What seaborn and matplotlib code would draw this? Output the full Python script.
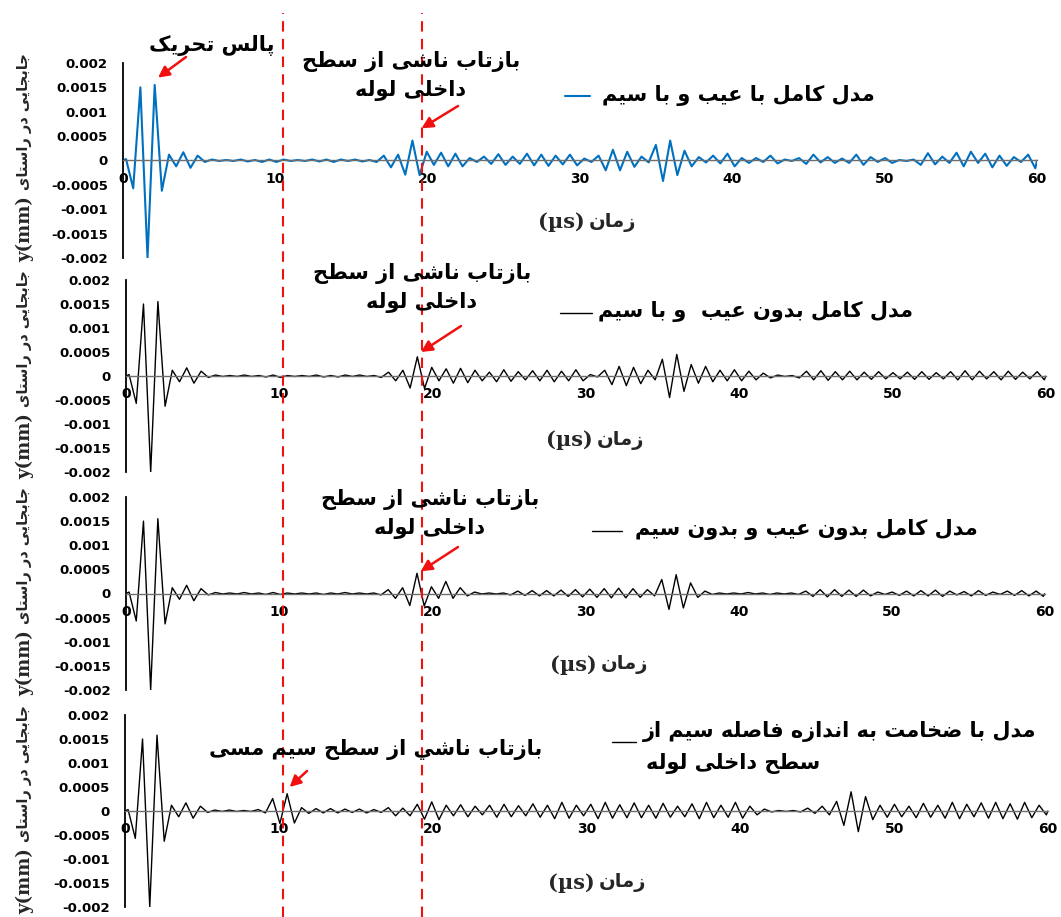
import numpy as np
import matplotlib
matplotlib.use('Agg')
import matplotlib.pyplot as plt
from matplotlib.lines import Line2D
from matplotlib.font_manager import FontProperties, findfont
from matplotlib.ft2font import FT2Font
import seaborn as sns

# ---- data ----
# extrema of the waves sit about half a period (0.47 us) apart
half_period = 0.47
t_peaks = 0.2 + half_period * np.arange(128)

# displacement at each extremum, in units of 1e-4 mm
with_defect_with_wire = [
    0.3, -5.7, 15.0, -20.0, 15.5, -6.2, 1.2, -1.2, 1.7, -1.5,
    1.0, -0.3, 0.2, -0.1, 0.1, -0.1, 0.2, -0.2, 0.1, -0.3,
    0.2, -0.3, 0.2, -0.1, 0.1, -0.1, 0.2, -0.2, 0.2, -0.3,
    0.2, -0.1, 0.2, -0.2, 0.1, -0.3, 1.0, -1.4, 1.2, -2.9,
    4.1, -3.0, 1.8, -0.9, 1.6, -1.2, 1.4, -1.2, 0.5, -0.3,
    0.8, -0.7, 1.3, -0.9, 0.8, -0.7, 1.4, -1.0, 1.2, -1.1,
    1.0, -0.8, 1.2, -1.0, 0.4, -0.3, 1.0, -2.0, 2.2, -2.0,
    1.8, -1.3, 0.8, -0.4, 3.2, -4.2, 4.1, -3.0, 2.0, -1.2,
    0.7, -0.4, 1.0, -0.6, 1.4, -1.2, 0.5, -0.5, 0.5, -0.3,
    1.0, -0.6, 0.2, -0.1, 0.5, -0.7, 1.2, -0.4, 0.7, -0.5,
    0.4, -0.5, 1.2, -0.9, 0.7, -0.3, 0.5, -0.5, 0.1, -0.1,
    0.2, -0.9, 1.5, -0.8, 0.8, -0.5, 1.6, -1.2, 1.8, -0.5,
    1.4, -1.4, 1.0, -1.1, 0.7, -0.3, 1.2, -1.6,
]
no_defect_with_wire = [
    0.3, -5.7, 15.0, -20.0, 15.5, -6.3, 1.2, -1.2, 1.7, -1.5,
    1.0, -0.3, 0.2, -0.1, 0.1, -0.1, 0.2, -0.1, 0.1, -0.2,
    0.2, -0.3, 0.1, -0.1, 0.1, -0.1, 0.2, -0.2, 0.1, -0.2,
    0.2, -0.1, 0.2, -0.1, 0.1, -0.3, 0.8, -1.0, 1.2, -2.5,
    4.0, -2.6, 1.8, -1.0, 1.5, -1.5, 1.6, -1.4, 1.2, -1.0,
    0.8, -1.2, 1.3, -1.1, 0.9, -0.8, 1.1, -1.0, 1.2, -1.2,
    1.0, -1.0, 1.3, -1.0, 0.3, -0.2, 1.2, -1.8, 2.0, -2.0,
    1.8, -1.6, 1.2, -0.8, 3.5, -4.5, 4.5, -3.2, 2.4, -1.5,
    2.0, -1.2, 1.2, -1.0, 1.3, -1.0, 1.0, -0.8, 0.6, -0.4,
    0.2, -0.1, 0.1, -0.4, 1.0, -0.8, 1.1, -0.9, 0.9, -0.8,
    1.0, -0.8, 0.8, -0.7, 0.9, -0.6, 0.7, -0.6, 0.8, -0.7,
    0.9, -0.7, 0.7, -0.6, 0.9, -0.8, 1.1, -0.8, 1.0, -0.6,
    0.9, -0.8, 1.0, -0.7, 0.8, -0.6, 0.9, -0.8,
]
no_defect_no_wire = [
    0.3, -5.7, 15.0, -20.0, 15.5, -6.3, 1.2, -1.2, 1.7, -1.5,
    1.0, -0.3, 0.2, -0.1, 0.1, -0.1, 0.2, -0.1, 0.1, -0.2,
    0.2, -0.2, 0.1, -0.1, 0.1, -0.1, 0.1, -0.2, 0.1, -0.1,
    0.2, -0.1, 0.1, -0.1, 0.1, -0.3, 0.8, -1.0, 1.2, -2.5,
    4.2, -2.6, 1.4, -1.0, 2.5, -1.0, 1.2, -0.5, 0.3, -0.1,
    0.1, -0.1, 0.1, -0.3, 0.5, -0.4, 0.6, -0.5, 0.6, -0.5,
    0.7, -0.6, 0.8, -0.7, 0.9, -0.8, 1.0, -0.9, 1.1, -0.9,
    1.0, -0.8, 0.8, -0.5, 2.9, -3.3, 3.9, -3.0, 2.2, -0.8,
    0.5, -0.2, 0.1, -0.1, 0.1, -0.1, 0.2, -0.1, 0.1, -0.2,
    0.1, -0.1, 0.1, -0.2, 0.5, -0.6, 0.8, -0.7, 0.8, -0.6,
    0.7, -0.6, 0.7, -0.5, 0.3, -0.2, 0.3, -0.4, 0.5, -0.5,
    0.6, -0.5, 0.7, -0.6, 0.5, -0.3, 0.4, -0.5, 0.6, -0.4,
    0.3, -0.2, 0.5, -0.4, 0.6, -0.5, 0.5, -0.6,
]
thick_wire = [
    0.3, -5.7, 15.0, -20.0, 15.8, -6.3, 1.2, -1.2, 1.7, -1.5,
    1.0, -0.3, 0.2, -0.1, 0.2, -0.1, 0.1, -0.1, 0.3, -0.4,
    2.6, -2.6, 3.6, -2.5, 0.7, -0.5, 0.5, -0.4, 0.5, -0.4,
    0.4, -0.3, 0.4, -0.4, 0.3, -0.3, 0.7, -1.0, 0.6, -1.0,
    1.4, -1.7, 1.9, -1.8, 1.2, -1.0, 1.3, -1.2, 1.0, -0.8,
    1.2, -1.3, 1.4, -1.2, 1.1, -1.0, 1.5, -1.3, 1.2, -1.6,
    1.8, -1.5, 1.2, -1.0, 1.4, -1.6, 1.8, -1.5, 1.3, -1.4,
    1.7, -1.4, 1.2, -1.5, 1.6, -1.3, 1.0, -1.2, 1.5, -1.6,
    1.8, -1.4, 1.2, -1.3, 1.8, -1.5, 1.0, -0.8, 0.4, -0.2,
    0.1, -0.1, 0.1, -0.2, 0.6, -0.5, 1.0, -0.8, 2.0, -3.0,
    4.0, -4.3, 3.0, -1.8, 1.2, -1.3, 1.4, -1.2, 1.0, -1.4,
    1.6, -1.3, 1.2, -1.5, 1.8, -1.6, 1.4, -1.2, 1.7, -1.5,
    1.8, -1.6, 1.5, -1.7, 1.8, -1.4, 1.2, -0.8,
]

x_ticks = [0, 10, 20, 30, 40, 50, 60]
y_ticks = [-0.002, -0.0015, -0.001, -0.0005, 0, 0.0005, 0.001, 0.0015, 0.002]
y_tick_labels = ['-0.002', '-0.0015', '-0.001', '-0.0005', '0',
                 '0.0005', '0.001', '0.0015', '0.002']
reflection_times = [10.5, 19.6]   # red dashed markers

legend_labels = ['مدل کامل با عیب و با سیم',
                 'مدل کامل بدون عیب  و با سیم',
                 'مدل کامل بدون عیب و بدون سیم',
                 'مدل با ضخامت به اندازه فاصله سیم از\nسطح داخلی لوله']
pulse_label = 'پالس تحریک'
inner_label = 'بازتاب ناشی از سطح\nداخلی لوله'
wire_label = 'بازتاب ناشي از سطح سیم مسی'
x_label_fa = 'زمان'
y_label_fa = 'جابجایی در راستای'

# ---- tiny Persian shaper (matplotlib has no bidi/shaping) ----
FORMS = {
    'ا': ('\uFE8D', '\uFE8E', None, None), 'آ': ('\uFE81', '\uFE82', None, None),
    'ب': ('\uFE8F', '\uFE90', '\uFE91', '\uFE92'), 'پ': ('\uFB56', '\uFB57', '\uFB58', '\uFB59'),
    'ت': ('\uFE95', '\uFE96', '\uFE97', '\uFE98'), 'ث': ('\uFE99', '\uFE9A', '\uFE9B', '\uFE9C'),
    'ج': ('\uFE9D', '\uFE9E', '\uFE9F', '\uFEA0'), 'چ': ('\uFB7A', '\uFB7B', '\uFB7C', '\uFB7D'),
    'ح': ('\uFEA1', '\uFEA2', '\uFEA3', '\uFEA4'), 'خ': ('\uFEA5', '\uFEA6', '\uFEA7', '\uFEA8'),
    'د': ('\uFEA9', '\uFEAA', None, None), 'ذ': ('\uFEAB', '\uFEAC', None, None),
    'ر': ('\uFEAD', '\uFEAE', None, None), 'ز': ('\uFEAF', '\uFEB0', None, None),
    'ژ': ('\uFB8A', '\uFB8B', None, None),
    'س': ('\uFEB1', '\uFEB2', '\uFEB3', '\uFEB4'), 'ش': ('\uFEB5', '\uFEB6', '\uFEB7', '\uFEB8'),
    'ص': ('\uFEB9', '\uFEBA', '\uFEBB', '\uFEBC'), 'ض': ('\uFEBD', '\uFEBE', '\uFEBF', '\uFEC0'),
    'ط': ('\uFEC1', '\uFEC2', '\uFEC3', '\uFEC4'), 'ظ': ('\uFEC5', '\uFEC6', '\uFEC7', '\uFEC8'),
    'ع': ('\uFEC9', '\uFECA', '\uFECB', '\uFECC'), 'غ': ('\uFECD', '\uFECE', '\uFECF', '\uFED0'),
    'ف': ('\uFED1', '\uFED2', '\uFED3', '\uFED4'), 'ق': ('\uFED5', '\uFED6', '\uFED7', '\uFED8'),
    'ک': ('\uFB8E', '\uFB8F', '\uFB90', '\uFB91'), 'گ': ('\uFB92', '\uFB93', '\uFB94', '\uFB95'),
    'ل': ('\uFEDD', '\uFEDE', '\uFEDF', '\uFEE0'), 'م': ('\uFEE1', '\uFEE2', '\uFEE3', '\uFEE4'),
    'ن': ('\uFEE5', '\uFEE6', '\uFEE7', '\uFEE8'), 'ه': ('\uFEE9', '\uFEEA', '\uFEEB', '\uFEEC'),
    'و': ('\uFEED', '\uFEEE', None, None),
    'ی': ('\uFBFC', '\uFBFD', '\uFBFE', '\uFBFF'), 'ي': ('\uFEF1', '\uFEF2', '\uFEF3', '\uFEF4'),
}


def shape_line(s):
    out = []
    for i, c in enumerate(s):
        if c not in FORMS:
            out.append(c)
            continue
        prev = s[i - 1] if i > 0 else ''
        nxt = s[i + 1] if i + 1 < len(s) else ''
        iso, fin, ini, med = FORMS[c]
        a = prev in FORMS and FORMS[prev][2] is not None
        b = ini is not None and nxt in FORMS
        out.append(med if a and b else fin if a else ini if b else iso)
    return ''.join(reversed(out))


def fa(s):
    return '\n'.join(shape_line(line) for line in s.split('\n'))


sns.set_theme(style='white')
plt.rcParams['font.family'] = ['DejaVu Sans']


def has_arabic(weight):
    path = findfont(FontProperties(family='DejaVu Sans', weight=weight))
    cmap = FT2Font(path).get_charmap()
    return all(ord(ch) in cmap for ch in '\uFB58\uFE8E\uFBFD\uFEE3')


fa_weight = 'bold' if has_arabic('bold') else 'normal'

W, H = 1061, 917
fig = plt.figure(figsize=(W / 100, H / 100), dpi=100)
fig.patch.set_facecolor('white')


def fx(x):
    return x / W


def fy(y):
    return 1 - y / H


# pixel boxes: x at t=0, x at t=60, y at +0.002, y at -0.002
boxes = [(123, 1037, 63, 258), (126, 1046, 280, 472),
         (126, 1045, 497, 690), (125, 1048, 715, 907)]
series = [with_defect_with_wire, no_defect_with_wire, no_defect_no_wire, thick_wire]
colors = ['#0070C0', 'black', 'black', 'black']
widths = [1.5, 1.0, 1.0, 1.0]

axes = []
for (x0, x1, yt, yb), vals, col, lw in zip(boxes, series, colors, widths):
    ax = fig.add_axes([fx(x0), fy(yb), (x1 - x0) / W, (yb - yt) / H])
    ax.set_facecolor('none')
    t = np.r_[0.0, t_peaks, 60.0]
    v = np.r_[0.0, np.array(vals) * 1e-4, 0.0]
    sns.lineplot(x=t, y=v, ax=ax, color=col, linewidth=lw,
                 solid_joinstyle='round', solid_capstyle='round')
    ax.set_xlim(0, 60)
    ax.set_ylim(-0.002, 0.002)
    for s in ['top', 'right']:
        ax.spines[s].set_visible(False)
    ax.spines['left'].set_color('black')
    ax.spines['left'].set_linewidth(1.3)
    ax.spines['bottom'].set_position(('data', 0))
    ax.spines['bottom'].set_color('#6e6e6e')
    ax.spines['bottom'].set_linewidth(1.0)
    ax.set_yticks(y_ticks)
    ax.set_yticklabels(y_tick_labels, fontsize=9.5, fontweight='bold')
    ax.set_xticks(x_ticks)
    ax.set_xticklabels([str(x) for x in x_ticks], fontsize=10, fontweight='bold')
    ax.tick_params(axis='y', direction='out', length=4, width=1.2, pad=7, colors='black')
    ax.tick_params(axis='x', direction='out', length=3, width=0.8, pad=5,
                   color='#6e6e6e', labelcolor='black')
    ax.set_xlabel('')
    ax.set_ylabel('')
    ax.grid(False)
    axes.append(ax)

# red dashed markers running through the whole figure
for tr in reflection_times:
    xd = axes[0].transData.transform((tr, 0))[0]
    xf = fig.transFigure.inverted().transform((xd, 0))[0]
    fig.add_artist(Line2D([xf, xf], [0, fy(13)], transform=fig.transFigure,
                          color='#f01010', lw=1.5, dashes=(5, 3.5)))

fa_kw = dict(fontsize=15, fontweight=fa_weight, color='black', ha='center', va='center',
             linespacing=1.5)
arrow_kw = dict(arrowstyle='-|>,head_length=0.55,head_width=0.28', color='#f01010',
                lw=1.8, shrinkA=0, shrinkB=0)


def arrow(ax, target, tail):
    ax.annotate('', xy=target, xycoords='data', xytext=(fx(tail[0]), fy(tail[1])),
                textcoords='figure fraction', arrowprops=arrow_kw, annotation_clip=False)


# panel 1
fig.text(fx(212), fy(46), fa(pulse_label), **fa_kw)
arrow(axes[0], (2.3, 0.0017), (186, 57))
fig.text(fx(411), fy(76), fa(inner_label), **fa_kw)
arrow(axes[0], (19.6, 0.00066), (458, 106))
# panel 2
fig.text(fx(422), fy(288), fa(inner_label), **fa_kw)
arrow(axes[1], (19.24, 0.0005), (461, 326))
# panel 3
fig.text(fx(430), fy(514), fa(inner_label), **fa_kw)
arrow(axes[2], (19.24, 0.00046), (458, 547))
# panel 4
fig.text(fx(376), fy(750), fa(wire_label), **fa_kw)
arrow(axes[3], (10.7, 0.0005), (307, 771))

# legends: text with a short line sample on its left
leg_text = [(738, 96), (755, 312), (806, 530), (840, 732)]
leg_line = [(565, 590, 96), (560, 592, 313), (592, 622, 531), (612, 636, 742)]
for i, lab in enumerate(legend_labels):
    lines = lab.split('\n')
    tx, ty = leg_text[i]
    fig.text(fx(tx), fy(ty), fa(lines[0]), **fa_kw)
    if len(lines) > 1:
        fig.text(fx(733), fy(764), fa(lines[1]), **fa_kw)
    x0, x1, yy = leg_line[i]
    fig.add_artist(Line2D([fx(x0), fx(x1)], [fy(yy), fy(yy)], transform=fig.transFigure,
                          color=colors[i], lw=widths[i]))

# axis titles
xlab_pos = [(587, 222), (595, 440), (599, 665), (597, 883)]
ylab_pos = [(25, 190), (25, 407), (25, 624), (25, 842)]
for (xx, yy), (lx, ly) in zip(xlab_pos, ylab_pos):
    fig.text(fx(xx - 2), fy(yy), '(µs)', family='DejaVu Serif', fontsize=15,
             fontweight='bold', ha='right', va='center')
    fig.text(fx(xx + 2), fy(yy), fa(x_label_fa), fontsize=14, fontweight=fa_weight,
             ha='left', va='center')
    fig.text(fx(lx), fy(ly), fa(y_label_fa), fontsize=10.5, fontweight=fa_weight,
             rotation=90, ha='center', va='bottom')
    fig.text(fx(lx), fy(ly + 6), 'y(mm)', family='DejaVu Serif', fontsize=13,
             fontweight='bold', rotation=90, ha='center', va='top')

fig.savefig('out.png', dpi=100, facecolor='white')
